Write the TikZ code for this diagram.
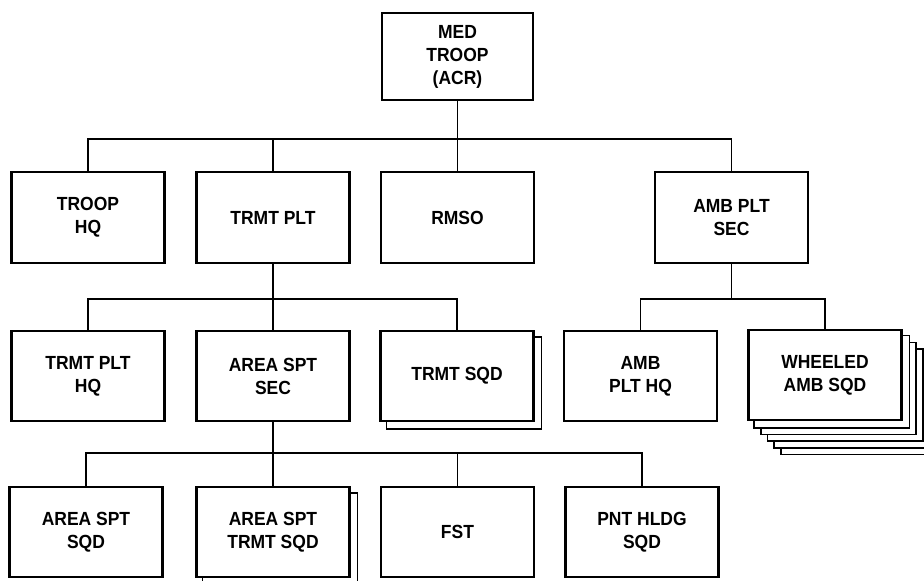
\documentclass[tikz,border=0pt]{standalone}
\usepackage{fontspec}
\setmainfont{Liberation Sans}[FakeStretch=0.92]
\usetikzlibrary{backgrounds}
\tikzset{
  unit/.style={draw, line width=2.2pt, fill=white, minimum width=153pt, minimum height=90pt,
    inner sep=0pt, align=center, font=\bfseries\fontsize{19}{23}\selectfont},
  link/.style={line width=1.8pt},
  layer/.style={draw, line width=1.6pt, fill=white}
}
\begin{document}
\begin{tikzpicture}[x=1pt,y=-1pt]
\useasboundingbox (0,0) rectangle (924,581);
\clip (0,0) rectangle (924,581);
% level 1
\node[unit, minimum width=151pt, minimum height=87pt] (med) at (457.5,56.5) {MED\\TROOP\\(ACR)};
% level 2
\node[unit, minimum height=91pt] (troophq) at (88,217.5) {TROOP\\HQ};
\node[unit, minimum height=91pt] (trmtplt) at (273,217.5) {TRMT PLT};
\node[unit, minimum height=91pt] (rmso) at (457.5,217.5) {RMSO};
\node[unit, minimum height=91pt] (ambsec) at (731.5,217.5) {AMB PLT\\SEC};
% level 3
\node[unit] (trmthq) at (88,376) {TRMT PLT\\HQ};
\node[unit] (areasec) at (273,376) {AREA SPT\\SEC};
\node[unit] (trmtsqd) at (457,376) {TRMT SQD};
\node[unit] (ambhq) at (640.5,376) {AMB\\PLT HQ};
\node[unit] (wheeled) at (825,375) {WHEELED\\AMB SQD};
% level 4
\node[unit] (areasqd) at (86,532) {AREA SPT\\SQD};
\node[unit] (areatrmt) at (273,532) {AREA SPT\\TRMT SQD};
\node[unit] (fst) at (457.5,532) {FST};
\node[unit] (pnt) at (642,532) {PNT HLDG\\SQD};
% stacked layers
\begin{pgfonlayer}{background}
  \foreach \k in {5,4,3,2,1}{
    \draw[layer] ([shift={(6.7*\k,6.7*\k)}]wheeled.north west) rectangle ([shift={(6.7*\k,6.7*\k)}]wheeled.south east);
  }
  \draw[layer] ([shift={(7,7)}]trmtsqd.north west) rectangle ([shift={(7,7)}]trmtsqd.south east);
  \draw[layer] ([shift={(7,7)}]areatrmt.north west) rectangle ([shift={(7,7)}]areatrmt.south east);
\end{pgfonlayer}
% buses
\coordinate (bus1) at (0,139);
\coordinate (bus2) at (0,299);
\coordinate (bus3) at (0,453);
\foreach \c in {troophq,trmtplt,rmso,ambsec}
  \draw[link] (med.south) -- (med.south |- bus1) -| (\c.north);
\foreach \c in {trmthq,areasec,trmtsqd}
  \draw[link] (trmtplt.south) -- (trmtplt.south |- bus2) -| (\c.north);
\foreach \c in {ambhq,wheeled}
  \draw[link] (ambsec.south) -- (ambsec.south |- bus2) -| (\c.north);
\foreach \c in {areasqd,areatrmt,fst,pnt}
  \draw[link] (areasec.south) -- (areasec.south |- bus3) -| (\c.north);
\end{tikzpicture}
\end{document}
